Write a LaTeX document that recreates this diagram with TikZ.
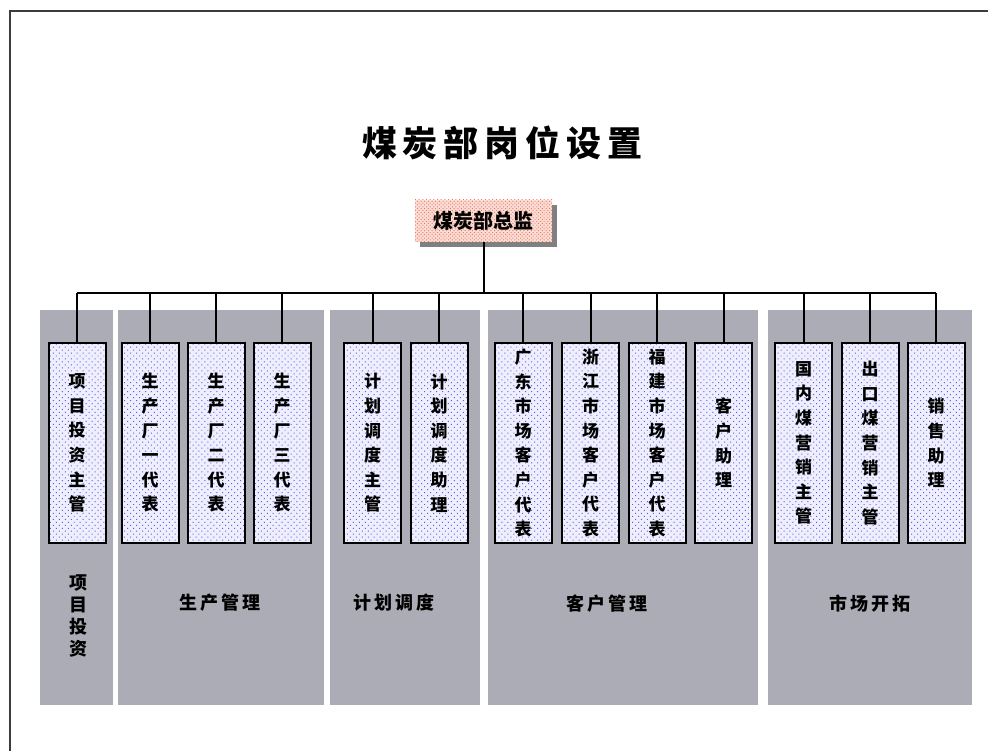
\documentclass[tikz,border=0pt]{standalone}
\usepackage{fontspec}
\newfontfamily\cjk{Noto Sans CJK SC}
\usetikzlibrary{patterns.meta}
\definecolor{panelgray}{RGB}{172,172,182}
\definecolor{framegray}{RGB}{60,60,60}
\definecolor{dotblue}{RGB}{95,95,230}
\definecolor{dotred}{RGB}{235,120,100}
\definecolor{boxbg}{RGB}{238,238,252}
\definecolor{headbg}{RGB}{250,222,214}
\definecolor{shadowgray}{RGB}{128,128,128}
\begin{document}
\begin{tikzpicture}[x=1pt,y=-1pt,
  panel/.style={fill=panelgray},
  posbox/.style={draw=black, line width=2pt, minimum width=57pt, minimum height=200pt,
    inner sep=0pt, align=center,
    preaction={fill=boxbg},
    pattern={Dots[distance=4.2pt,angle=45,radius=0.7pt]}, pattern color=dotblue,
    font=\cjk\bfseries\fontsize{17}{24.6}\selectfont},
  headbox/.style={minimum width=137pt, minimum height=42pt, inner sep=0pt,
    preaction={fill=shadowgray, transform canvas={xshift=5pt, yshift=-5pt}},
    preaction={fill=headbg},
    pattern={Dots[distance=2.6pt,angle=45,radius=0.7pt]}, pattern color=dotred,
    font=\cjk\bfseries\fontsize{20}{22}\selectfont},
  grouplabel/.style={font=\cjk\bfseries\fontsize{18}{22}\selectfont, align=center, inner sep=0pt},
  conn/.style={draw=black, line width=2pt}
]
\useasboundingbox (0,0) rectangle (988,751);
\fill[white] (0,0) rectangle (988,751);
% frame
\draw[framegray, line width=2.2pt] (10,751) -- (10,11) -- (988,11);

% title
\node[font=\cjk\bfseries\fontsize{35}{38}\selectfont] (title) at (502,143) {煤\,炭\,部\,岗\,位\,设\,置};

% panels
\fill[panel] (40,310) rectangle (113,705);
\fill[panel] (118,310) rectangle (324,705);
\fill[panel] (330,310) rectangle (480,705);
\fill[panel] (488,310) rectangle (758,705);
\fill[panel] (768,310) rectangle (972,705);

% group labels
\node[grouplabel] (g1) at (78,616) {项\\目\\投\\资};
\node[grouplabel] (g2) at (220,603) {生\,产\,管\,理};
\node[grouplabel] (g3) at (394,603) {计\,划\,调\,度};
\node[grouplabel] (g4) at (607,604) {客\,户\,管\,理};
\node[grouplabel] (g5) at (870,604) {市\,场\,开\,拓};

% head
\node[headbox] (head) at (483.5,221) {煤炭部总监};

% position boxes
\node[posbox] (b1) at (77,443) {项\\目\\投\\资\\主\\管};
\node[posbox] (b2) at (150,443) {生\\产\\厂\\一\\代\\表};
\node[posbox] (b3) at (216,443) {生\\产\\厂\\二\\代\\表};
\node[posbox] (b4) at (282,443) {生\\产\\厂\\三\\代\\表};
\node[posbox] (b5) at (372.5,443) {计\\划\\调\\度\\主\\管};
\node[posbox] (b6) at (439,443) {计\\划\\调\\度\\助\\理};
\node[posbox] (b7) at (523,443) {广\\东\\市\\场\\客\\户\\代\\表};
\node[posbox] (b8) at (590.5,443) {浙\\江\\市\\场\\客\\户\\代\\表};
\node[posbox] (b9) at (657,443) {福\\建\\市\\场\\客\\户\\代\\表};
\node[posbox] (b10) at (723.5,443) {客\\户\\助\\理};
\node[posbox] (b11) at (803.5,443) {国\\内\\煤\\营\\销\\主\\管};
\node[posbox] (b12) at (870,443) {出\\口\\煤\\营\\销\\主\\管};
\node[posbox] (b13) at (936,443) {销\\售\\助\\理};

% connectors
\coordinate (busL) at (77,293);
\coordinate (busR) at (936,293);
\draw[conn] (head.south) -- (head.south |- busL);
\draw[conn] (busL) -- (busR);
\foreach \b in {b1,b2,b3,b4,b5,b6,b7,b8,b9,b10,b11,b12,b13}
  \draw[conn] (\b.north |- busL) -- (\b.north);
\end{tikzpicture}
\end{document}
